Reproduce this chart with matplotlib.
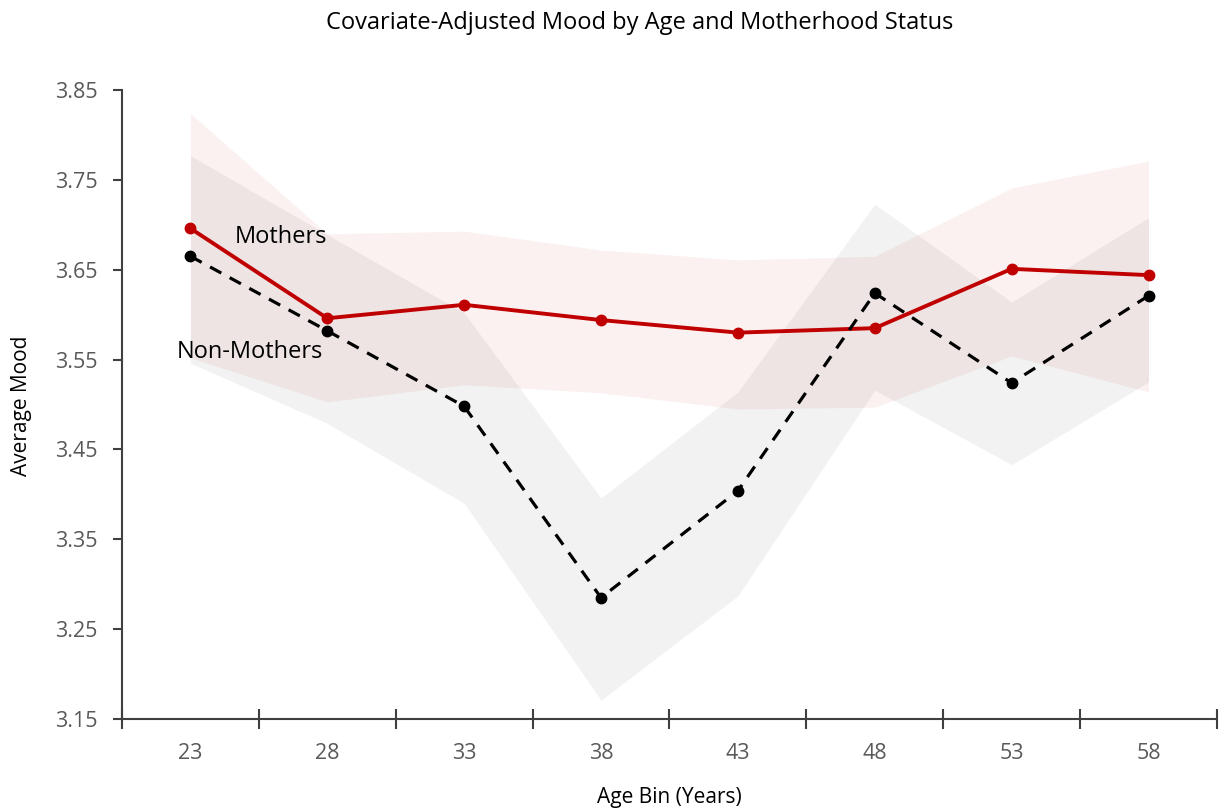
import numpy as np
import matplotlib.pyplot as plt

# data
ages = ['23', '28', '33', '38', '43', '48', '53', '58']
mothers = [3.696, 3.596, 3.611, 3.594, 3.580, 3.585, 3.651, 3.644]
mothers_lo = [3.552, 3.503, 3.522, 3.513, 3.495, 3.497, 3.554, 3.514]
mothers_hi = [3.824, 3.690, 3.693, 3.672, 3.661, 3.665, 3.741, 3.771]
non_mothers = [3.665, 3.582, 3.498, 3.285, 3.404, 3.624, 3.524, 3.621]
non_lo = [3.546, 3.479, 3.390, 3.171, 3.287, 3.516, 3.433, 3.525]
non_hi = [3.777, 3.689, 3.602, 3.396, 3.514, 3.723, 3.614, 3.708]

plt.rcParams['font.family'] = ['Open Sans', 'DejaVu Sans']

fig = plt.figure(figsize=(12.2, 8.11), dpi=100)
ax = fig.add_axes([0.1, 0.1134, 0.8975, 0.7756])

x = np.arange(len(ages))
red = '#C00000'

ax.fill_between(x, mothers_lo, mothers_hi, color=red, alpha=0.055, lw=0)
ax.fill_between(x, non_lo, non_hi, color='black', alpha=0.05, lw=0)

ax.plot(x, mothers, color=red, lw=2.8, marker='o', ms=7.5, zorder=3)
ax.plot(x, non_mothers, color='black', lw=2.3, ls=(0, (4, 3)), marker='o', ms=7.5, zorder=3)

ax.text(0.66, 3.686, 'Mothers', fontsize=17, ha='center', va='center')
ax.text(-0.1, 3.559, 'Non-Mothers', fontsize=17, ha='left', va='center')

ax.set_xlim(-0.5, 7.5)
ax.set_ylim(3.15, 3.85)
ax.set_yticks(np.arange(3.15, 3.851, 0.1))
ax.set_yticklabels(['%.2f' % v for v in np.arange(3.15, 3.851, 0.1)])
ax.set_xticks(x)
ax.set_xticklabels(ages)
ax.set_xticks(np.arange(-0.5, 8, 1), minor=True)

spine_c = '#404040'
for s in ['top', 'right']:
    ax.spines[s].set_visible(False)
for s in ['left', 'bottom']:
    ax.spines[s].set_color(spine_c)
    ax.spines[s].set_linewidth(1.5)

ax.tick_params(axis='x', which='major', length=0, pad=17, labelsize=15.5, labelcolor='#595959')
ax.tick_params(axis='x', which='minor', length=14, direction='inout', width=1.5, color=spine_c)
ax.tick_params(axis='y', length=6.5, width=1.5, color=spine_c, pad=11, labelsize=15.5, labelcolor='#595959')

fig.text(0.5246, 0.972, 'Covariate-Adjusted Mood by Age and Motherhood Status',
         fontsize=17, ha='center', va='center')
fig.text(0.018, 0.5, 'Average Mood', rotation=90, fontsize=15, ha='center', va='center')
fig.text(0.549, 0.017, 'Age Bin (Years)', fontsize=15, ha='center', va='center')

fig.savefig('out.png', dpi=100)
